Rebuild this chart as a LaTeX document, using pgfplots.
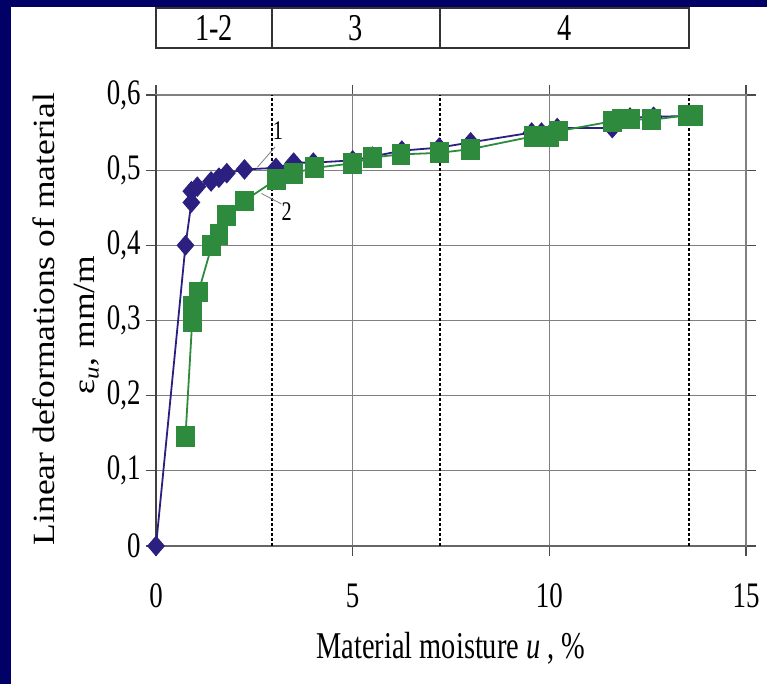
\documentclass[border=0pt]{standalone}
\usepackage{pgfplots}
\pgfplotsset{compat=1.18}
\usepackage{fontspec}
\setmainfont{Liberation Serif}
\newfontfamily\hfont[FakeStretch=0.75]{Liberation Serif}
\newfontfamily\vfont[FakeStretch=1.15]{Liberation Serif}
\definecolor{bgnavy}{HTML}{000066}
\definecolor{sone}{HTML}{2B2080}
\definecolor{stwo}{HTML}{2E8B3E}
\definecolor{gridgray}{HTML}{808080}

\begin{document}
\begin{tikzpicture}[x=1bp,y=1bp]
\useasboundingbox (0,0) rectangle (767,684);
\fill[bgnavy] (0,0) rectangle (767,684);
\fill[white] (11,0) rectangle (767,677);
% zone table
\draw[black!80, line width=1.1bp] (156,636) rectangle (689,676);
\draw[black!80, line width=1.1bp] (272,636) -- (272,676) (440,636) -- (440,676);
\node[font=\fontsize{38}{38}\hfont] at (214,656) {1-2};
\node[font=\fontsize{38}{38}\hfont] at (356,656) {3};
\node[font=\fontsize{38}{38}\hfont] at (565,656) {4};
% y label
\node[rotate=90, font=\fontsize{31}{31}\vfont] at (44,365) {Linear deformations of material};
\node[rotate=90, font=\fontsize{31}{31}\vfont] at (87,359) {ε\textsubscript{\itshape u}, mm/m};
% x label
\node[font=\fontsize{38}{38}\hfont] at (451,36) {Material moisture \textit{u} , \%};
\begin{axis}[
  at={(156bp,138bp)}, anchor=south west,
  scale only axis, width=590bp, height=451bp,
  xmin=0, xmax=15, ymin=0, ymax=0.6,
  xtick={0,5,10,15}, ytick={0,0.1,0.2,0.3,0.4,0.5,0.6},
  grid=major,
  major grid style={draw=gridgray, line width=1.1bp},
  axis line style={draw=gridgray, line width=1.8bp},
  tick align=outside, major tick length=10bp,
  tick style={draw=black!70, line width=1.1bp},
  /pgf/number format/assume math mode=true,
  /pgf/number format/use comma,
  yticklabel style={font=\fontsize{36}{36}\hfont, /pgf/number format/fixed, /pgf/number format/precision=1, xshift=-2bp},
  xticklabel style={font=\fontsize{36}{36}\hfont, yshift=-24bp},
  clip=false,
]
\draw[black!75, line width=1.8bp] (rel axis cs:0,0) -- (rel axis cs:0,1);
\draw[black!60, line width=1.8bp] (rel axis cs:0,0) -- (rel axis cs:1,0);
\addplot[sone, line width=1.8bp, mark=diamond*, mark size=9bp, mark options={xscale=1.15, fill=sone, draw=sone}] coordinates {
(0,0) (0.75,0.400) (0.90,0.457) (0.90,0.472) (1.05,0.478) (1.40,0.485) (1.60,0.490) (1.80,0.496) (2.25,0.501)
(3.05,0.503) (3.50,0.510) (4.00,0.510) (5.00,0.513) (5.50,0.518) (6.25,0.526) (7.20,0.530) (8.00,0.537)
(9.55,0.550) (9.80,0.550) (10.05,0.550) (10.20,0.556) (11.60,0.556) (11.80,0.568) (12.05,0.570) (12.65,0.571) (13.50,0.572)
};
\addplot[stwo, line width=1.8bp, mark=square*, mark size=8.5bp, mark options={yscale=1.12, fill=stwo, draw=stwo}] coordinates {
(0.75,0.146) (0.92,0.299) (0.92,0.319) (1.08,0.338) (1.42,0.400) (1.60,0.414) (1.80,0.440) (2.24,0.459)
(3.07,0.488) (3.50,0.496) (4.02,0.503) (5.00,0.509) (5.51,0.517) (6.23,0.521) (7.20,0.523) (8.00,0.528)
(9.59,0.545) (9.83,0.545) (10.00,0.545) (10.24,0.552) (11.60,0.565) (11.82,0.568) (12.07,0.568) (12.60,0.567) (13.50,0.573) (13.66,0.573)
};
\draw[black, line width=1.6bp, dash pattern=on 3bp off 2bp] (axis cs:2.95,0) -- (axis cs:2.95,0.6);
\draw[black, line width=1.6bp, dash pattern=on 3bp off 2bp] (axis cs:7.22,0) -- (axis cs:7.22,0.6);
\draw[black, line width=1.6bp, dash pattern=on 3bp off 2bp] (axis cs:13.55,0) -- (axis cs:13.55,0.6);
\draw[gray, line width=0.8bp] (axis cs:2.58,0.504) -- (axis cs:3.03,0.531);
\draw[gray, line width=0.8bp] (axis cs:2.68,0.469) -- (axis cs:3.19,0.455);
\node[font=\fontsize{27}{27}\hfont] at (axis cs:3.10,0.553) {1};
\node[font=\fontsize{27}{27}\hfont] at (axis cs:3.32,0.445) {2};
\end{axis}
\end{tikzpicture}
\end{document}
